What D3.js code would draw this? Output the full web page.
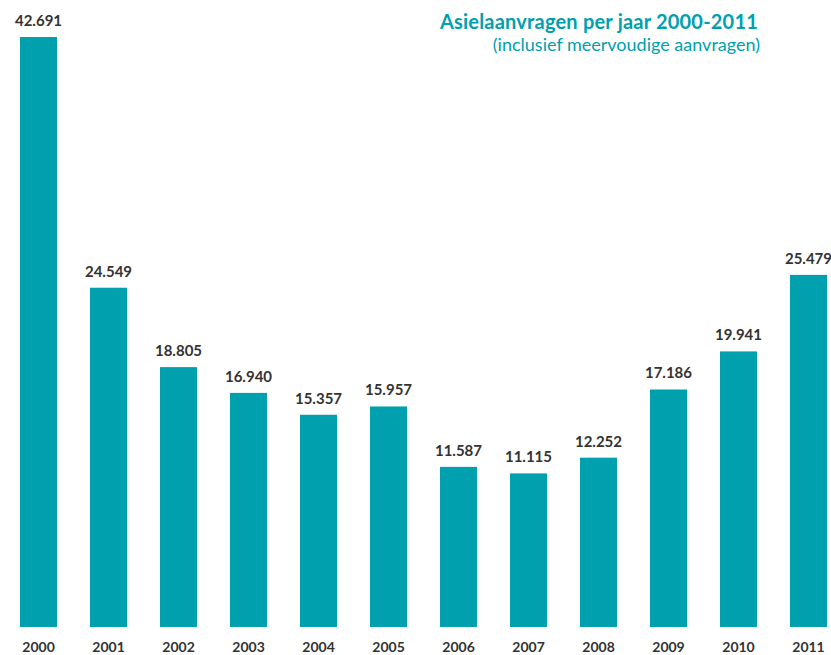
<!DOCTYPE html>
<html>
<head>
<meta charset="utf-8">
<script src="https://cdn.jsdelivr.net/npm/d3@7"></script>
<style>
body { margin: 0; background: #fff; }
svg text { font-family: Lato, "Open Sans", sans-serif; }
</style>
</head>
<body>
<svg id="graph" width="831" height="655"></svg>
<script>
var years = ["2000","2001","2002","2003","2004","2005","2006","2007","2008","2009","2010","2011"];
var aanvragen = [42691, 24549, 18805, 16940, 15357, 15957, 11587, 11115, 12252, 17186, 19941, 25479];
var valueLabels = ["42.691","24.549","18.805","16.940","15.357","15.957","11.587","11.115","12.252","17.186","19.941","25.479"];

var svg = d3.select("#graph");
var teal = "#00a0ae";

var x = d3.scaleBand()
    .domain(years)
    .range([20, 827])
    .paddingInner(0.4714)
    .paddingOuter(0);

var y = d3.scaleLinear()
    .domain([0, 42691])
    .range([627, 37]);

var data = years.map(function(d, i) {
    return {year: d, value: aanvragen[i], label: valueLabels[i]};
});

svg.selectAll("rect.bar")
    .data(data)
    .enter()
    .append("rect")
    .attr("class", "bar")
    .attr("x", function(d) { return x(d.year); })
    .attr("y", function(d) { return y(d.value); })
    .attr("width", x.bandwidth())
    .attr("height", function(d) { return 627 - y(d.value); })
    .attr("fill", teal);

svg.selectAll("text.val")
    .data(data)
    .enter()
    .append("text")
    .attr("class", "val")
    .attr("x", function(d) { return x(d.year) + x.bandwidth() / 2; })
    .attr("y", function(d) { return y(d.value) - 11; })
    .attr("text-anchor", "middle")
    .attr("font-size", "15px")
    .attr("font-weight", "bold")
    .attr("fill", "#333")
    .text(function(d) { return d.label; });

// year axis, no line or ticks
var xAxis = svg.append("g")
    .attr("transform", "translate(0,627)")
    .call(d3.axisBottom(x).tickSize(0).tickPadding(15));
xAxis.select(".domain").remove();
xAxis.selectAll("text")
    .attr("font-size", "14px")
    .attr("font-weight", "bold")
    .attr("fill", "#333")
    .style("font-family", "Lato, 'Open Sans', sans-serif");

svg.append("text")
    .attr("x", 758)
    .attr("y", 29)
    .attr("text-anchor", "end")
    .attr("font-size", "20px")
    .attr("font-weight", "bold")
    .attr("letter-spacing", "0.2px")
    .attr("fill", teal)
    .text("Asielaanvragen per jaar 2000-2011");

svg.append("text")
    .attr("x", 760)
    .attr("y", 51)
    .attr("text-anchor", "end")
    .attr("font-size", "18px")
    .attr("fill", teal)
    .text("(inclusief meervoudige aanvragen)");
</script>
</body>
</html>
